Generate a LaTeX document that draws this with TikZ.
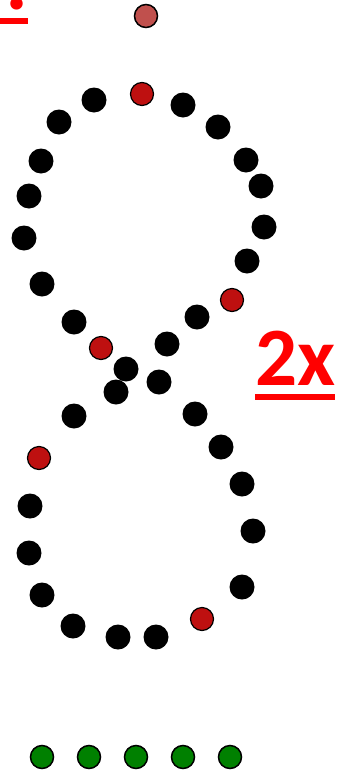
\documentclass[tikz,border=0pt]{standalone}
\usepackage{fontspec}
\newfontfamily\calib{Carlito}
\definecolor{darkred}{RGB}{190,16,16}
\definecolor{lightred}{RGB}{192,80,77}
\definecolor{dgreen}{RGB}{0,128,0}
\definecolor{txtred}{RGB}{255,0,0}
\tikzset{
  dotblack/.style={circle,fill=black,draw=none,minimum size=25pt,inner sep=0pt},
  dotred/.style={circle,fill=darkred,draw=black,line width=1.2pt,minimum size=23pt,inner sep=0pt},
  dotlight/.style={circle,fill=lightred,draw=black,line width=1.5pt,minimum size=23pt,inner sep=0pt},
  dotgreen/.style={circle,fill=dgreen,draw=black,line width=1.5pt,minimum size=23pt,inner sep=0pt},
  bigtxt/.style={text=txtred,font=\calib\bfseries\fontsize{83}{90}\selectfont,inner sep=0pt,outer sep=0pt},
  uline/.style={fill=txtred,draw=none}
}
\begin{document}
\begin{tikzpicture}[x=1pt,y=-1pt]
\useasboundingbox (0,0) rectangle (338,774);
\begin{scope}
\clip (0,0) rectangle (338,774);
% clipped label at top-left (only its lower part lies inside the picture)
\node[bigtxt,anchor=base east] (tl) at (28,9) {:};
\fill[uline] (0,18) rectangle ([yshift=-15pt]tl.base east);
\end{scope}
% 2x label
\node[bigtxt,anchor=base west] (two) at (255,385) {2x};
\fill[uline] ([yshift=-9pt]two.base west) rectangle ([yshift=-15pt]two.base east);
% top light red dot
\node[dotlight] (top) at (146,16) {};
% dark red dots
\node[dotred] (r1) at (142,94) {};
\node[dotred] (r2) at (232,300) {};
\node[dotred] (r3) at (101,348) {};
\node[dotred] (r4) at (39,458) {};
\node[dotred] (r5) at (202,619) {};
% black dots
\node[dotblack] (b1) at (94,100) {};
\node[dotblack] (b2) at (59,122) {};
\node[dotblack] (b3) at (41,161) {};
\node[dotblack] (b4) at (29,196) {};
\node[dotblack] (b5) at (24,238) {};
\node[dotblack] (b6) at (42,284) {};
\node[dotblack] (b7) at (74,322) {};
\node[dotblack] (b8) at (183,105) {};
\node[dotblack] (b9) at (218,127) {};
\node[dotblack] (b10) at (246,160) {};
\node[dotblack] (b11) at (261,186) {};
\node[dotblack] (b12) at (264,227) {};
\node[dotblack] (b13) at (247,261) {};
\node[dotblack] (b14) at (197,317) {};
\node[dotblack] (b15) at (167,344) {};
\node[dotblack] (b16) at (126,369) {};
\node[dotblack] (b17) at (159,382) {};
\node[dotblack] (b18) at (116,392) {};
\node[dotblack] (b19) at (74,416) {};
\node[dotblack] (b20) at (195,414) {};
\node[dotblack] (b21) at (221,447) {};
\node[dotblack] (b22) at (242,484) {};
\node[dotblack] (b23) at (253,531) {};
\node[dotblack] (b24) at (242,587) {};
\node[dotblack] (b25) at (30,506) {};
\node[dotblack] (b26) at (29,553) {};
\node[dotblack] (b27) at (42,595) {};
\node[dotblack] (b28) at (73,626) {};
\node[dotblack] (b29) at (118,637) {};
\node[dotblack] (b30) at (156,637) {};
% green dots
\node[dotgreen] (g1) at (42,757) {};
\node[dotgreen] (g2) at (89,757) {};
\node[dotgreen] (g3) at (136,757) {};
\node[dotgreen] (g4) at (183,757) {};
\node[dotgreen] (g5) at (230,757) {};
\end{tikzpicture}
\end{document}
